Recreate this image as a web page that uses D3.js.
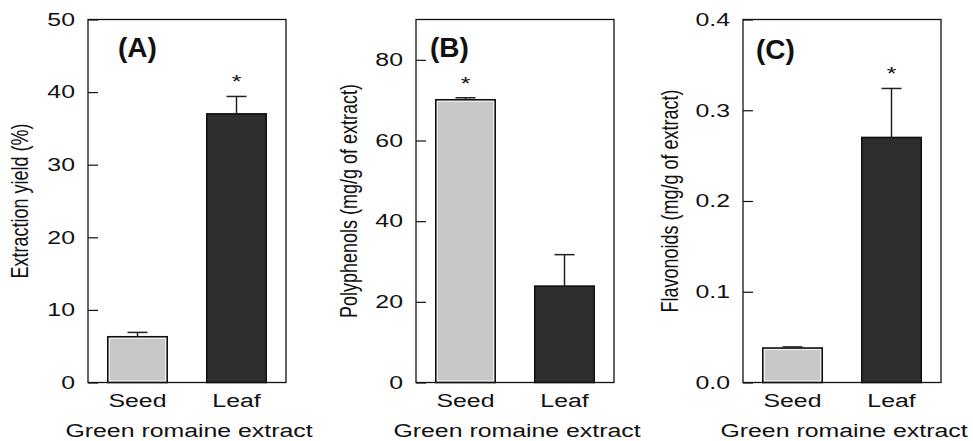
<!DOCTYPE html>
<html>
<head>
<meta charset="utf-8">
<script src="https://cdn.jsdelivr.net/npm/d3@7"></script>
<style>
  body { margin: 0; background: #fff; }
  text { font-family: "Liberation Sans", Arial, sans-serif; fill: #111; }
</style>
</head>
<body>
<div id="chart"></div>
<script>
// data
var categories = ["Seed", "Leaf"];
var yieldMean = [6.3, 37.0],   yieldErr = [0.6, 2.4];
var polyMean  = [70.1, 23.9],  polyErr  = [0.5, 7.8];
var flavMean  = [0.038, 0.270], flavErr = [0.0012, 0.054];
var yieldTicks = [0, 10, 20, 30, 40, 50];
var polyTicks  = [0, 20, 40, 60, 80];
var flavTicks  = [0.0, 0.1, 0.2, 0.3, 0.4];
var yMax = [50, 90, 0.4];
var starOn = ["Leaf", "Seed", "Leaf"];
var panelNames = ["(A)", "(B)", "(C)"];
var yTitles = ["Extraction yield (%)", "Polyphenols (mg/g of extract)", "Flavonoids (mg/g of extract)"];
var xTitle = "Green romaine extract";

var panels = [
  { mean: yieldMean, err: yieldErr, ticks: yieldTicks, fmt: d3.format("d") },
  { mean: polyMean,  err: polyErr,  ticks: polyTicks,  fmt: d3.format("d") },
  { mean: flavMean,  err: flavErr,  ticks: flavTicks,  fmt: d3.format(".1f") }
];

// layout
var W = 973, H = 441,
    frameLeft = [88, 416, 743],
    frameW = 198,
    plotTop = 19.5, plotBottom = 382.5,
    nameDx = [30, 14, 13], nameY = [57, 57, 59],
    titleDx = [-60, -59, -65],
    stretch = 1.38,
    colors = { Seed: "#c8c8c8", Leaf: "#2e2e2e" };

var svg = d3.select("#chart").append("svg")
    .attr("width", W)
    .attr("height", H);

panels.forEach(function(p, i) {
    var g = svg.append("g").attr("transform", "translate(" + frameLeft[i] + ",0)");

    var x = d3.scaleBand().domain(categories).range([0, frameW])
        .paddingInner(0.4).paddingOuter(0.2);
    var y = d3.scaleLinear().domain([0, yMax[i]]).range([plotBottom, plotTop]);

    var rows = categories.map(function(c, j) { return { cat: c, v: p.mean[j], e: p.err[j] }; });

    // bars
    g.selectAll(".bar").data(rows).enter().append("rect")
        .attr("class", "bar")
        .attr("x", function(d) { return x(d.cat); })
        .attr("y", function(d) { return y(d.v); })
        .attr("width", x.bandwidth())
        .attr("height", function(d) { return plotBottom - y(d.v); })
        .style("fill", function(d) { return colors[d.cat]; })
        .style("stroke", "#111")
        .style("stroke-width", 1.6);

    // thin light edge inside the pale bar
    g.selectAll(".inner").data(rows.filter(function(d) { return d.cat === "Seed"; })).enter().append("rect")
        .attr("x", function(d) { return x(d.cat) + 1.6; })
        .attr("y", function(d) { return y(d.v) + 1.6; })
        .attr("width", x.bandwidth() - 3.2)
        .attr("height", function(d) { return plotBottom - y(d.v) - 3.2; })
        .style("fill", "none")
        .style("stroke", "#f2f2f2")
        .style("stroke-width", 1);

    // error bars (upper half only)
    var eb = g.selectAll(".err").data(rows).enter().append("g");
    eb.append("line")
        .attr("x1", function(d) { return x(d.cat) + x.bandwidth() / 2; })
        .attr("x2", function(d) { return x(d.cat) + x.bandwidth() / 2; })
        .attr("y1", function(d) { return y(d.v); })
        .attr("y2", function(d) { return y(d.v + d.e); })
        .style("stroke", "#222").style("stroke-width", 1.5);
    eb.append("line")
        .attr("x1", function(d) { return x(d.cat) + x.bandwidth() / 2 - 10; })
        .attr("x2", function(d) { return x(d.cat) + x.bandwidth() / 2 + 10; })
        .attr("y1", function(d) { return y(d.v + d.e); })
        .attr("y2", function(d) { return y(d.v + d.e); })
        .style("stroke", "#222").style("stroke-width", 1.5);

    // significance star
    var s = rows.filter(function(d) { return d.cat === starOn[i]; })[0];
    g.append("text")
        .attr("transform", "translate(" + (x(s.cat) + x.bandwidth() / 2) + "," + (y(s.v + s.e) - 8) + ") scale(" + stretch + ",1)")
        .attr("text-anchor", "middle")
        .style("font-size", "18px")
        .text("*");

    // y axis, ticks inward
    var ya = g.append("g")
        .call(d3.axisLeft(y).tickValues(p.ticks).tickFormat(p.fmt)
            .tickSizeInner(-10).tickSizeOuter(0).tickPadding(13));
    ya.select(".domain").remove();
    ya.selectAll(".tick line").style("stroke", "#111").style("stroke-width", 1.2);
    ya.selectAll(".tick text")
        .each(function() {
            var t = d3.select(this), tx = +t.attr("x");
            t.attr("x", null).attr("transform", "translate(" + tx + ",0) scale(" + stretch + ",1)");
        })
        .attr("fill", "#111")
        .style("font-size", "18px")
        .style("font-family", "'Liberation Sans', Arial, sans-serif");

    // x axis labels
    var xa = g.append("g").attr("transform", "translate(0," + plotBottom + ")")
        .call(d3.axisBottom(x).tickSize(0).tickPadding(12));
    xa.select(".domain").remove();
    xa.selectAll(".tick text")
        .each(function() {
            var t = d3.select(this), ty = +t.attr("y");
            t.attr("y", null).attr("transform", "translate(0," + ty + ") scale(" + stretch + ",1)");
        })
        .attr("fill", "#111")
        .style("font-size", "18px")
        .style("font-family", "'Liberation Sans', Arial, sans-serif");

    // frame
    g.append("rect")
        .attr("x", 0).attr("y", plotTop)
        .attr("width", frameW).attr("height", plotBottom - plotTop)
        .style("fill", "none").style("stroke", "#111").style("stroke-width", 1.3);

    // panel letter
    g.append("text")
        .attr("x", nameDx[i]).attr("y", nameY[i])
        .style("font-size", "28px").style("font-weight", "bold")
        .text(panelNames[i]);

    // y title
    g.append("text")
        .attr("transform", "translate(" + titleDx[i] + "," + ((plotTop + plotBottom) / 2) + ") scale(1.35,1) rotate(-90)")
        .attr("text-anchor", "middle")
        .style("font-size", "18px")
        .text(yTitles[i]);

    // x title
    g.append("text")
        .attr("transform", "translate(" + (frameW / 2 + 2) + ",437) scale(" + stretch + ",1)")
        .attr("text-anchor", "middle")
        .style("font-size", "18px")
        .text(xTitle);
});
</script>
</body>
</html>
